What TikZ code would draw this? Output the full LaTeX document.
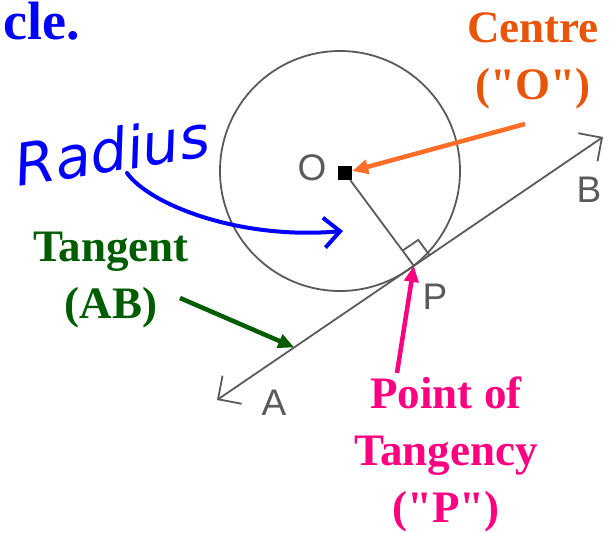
\documentclass[tikz,border=0pt]{standalone}
\usepackage{fontspec}
\setmainfont{Liberation Serif}[Ligatures=TeXOff]
\newfontfamily\pointfont{Liberation Sans}
\newfontfamily\handfont{DejaVu Sans}
\usetikzlibrary{arrows.meta,calc}
\definecolor{titleblue}{RGB}{0,0,255}
\definecolor{centreorange}{RGB}{232,84,10}
\definecolor{arroworange}{RGB}{255,110,40}
\definecolor{tangentgreen}{RGB}{0,92,0}
\definecolor{tangencypink}{RGB}{255,0,128}
\definecolor{figgray}{RGB}{90,90,90}
\tikzset{
  caption/.style={font=\fontsize{45}{57}\selectfont\bfseries, align=center, inner sep=0pt},
  pointlabel/.style={font=\pointfont\fontsize{37}{37}\selectfont, text=figgray, inner sep=0pt},
  pointer/.style={line width=4.5pt, -{Triangle[length=16pt,width=14pt]}},
  figline/.style={draw=figgray, line width=1.8pt}
}
\begin{document}
\begin{tikzpicture}[x=1pt,y=-1pt]
\useasboundingbox (0,0) rectangle (614,533);
\coordinate (A) at (217,400);
\coordinate (B) at (603,137);
\coordinate (P) at ($(A)!0.51!(B)$);
\node[fill=black, minimum size=14pt, inner sep=0pt] (O) at (345,173) {};
\draw[figline] (340,171) circle[radius=120pt];
\draw[figline] (O) -- (P);
\draw[figline, {Straight Barb[length=17pt,width=34pt]}-{Straight Barb[length=17pt,width=34pt]}] (A) -- (B);
\coordinate (r1) at ($(P)!19pt!(O)$);
\coordinate (r2) at ($(P)!19pt!(B)$);
\draw[figline] (r1) -- ($(r1)+(r2)-(P)$) -- (r2);
\node[pointlabel] (labO) at (312,168) {O};
\node[pointlabel] (labA) at (274,403) {A};
\node[pointlabel] (labB) at (589,190) {B};
\node[pointlabel] (labP) at (435,297) {P};
\node[caption, text=titleblue, font=\fontsize{54}{54}\selectfont\bfseries, anchor=base west] (cle) at (3,39) {cle.};
\node[caption, text=centreorange] (centre) at (533,61) {Centre\\("O")};
\node[caption, text=tangentgreen] (tangent) at (111,280) {Tangent\\(AB)};
\node[caption, text=tangencypink] (tangency) at (446,454) {Point of\\Tangency\\("P")};
\node[font=\handfont\itshape\fontsize{58}{58}\selectfont, text=titleblue, rotate=9, inner sep=0pt] (radius) at (112,150) {Radius};
\coordinate (centre-tail) at (525,124);
\coordinate (tangent-tail) at (180,298);
\coordinate (tangent-head) at ($(A)!0.2!(B)$);
\coordinate (tangency-tail) at (397,373);
\coordinate (radius-tail) at (127,173);
\coordinate (radius-head) at (343,231);
\draw[pointer, arroworange] (centre-tail) -- (O);
\draw[pointer, tangentgreen] (tangent-tail) -- (tangent-head);
\draw[pointer, tangencypink] (tangency-tail) -- (P);
\draw[titleblue, line width=4pt, line cap=round, -{Straight Barb[length=16pt,width=30pt]}] (radius-tail) .. controls (150,205) and (240,240) .. (radius-head);
\end{tikzpicture}
\end{document}
